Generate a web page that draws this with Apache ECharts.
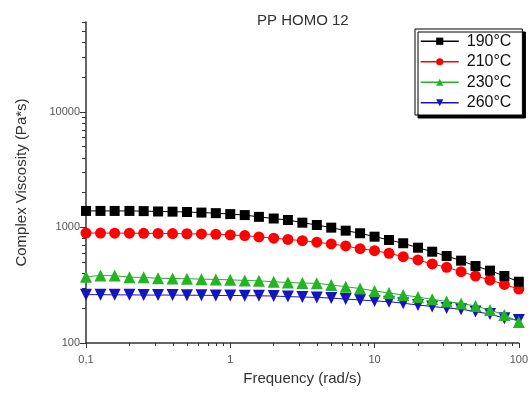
<!DOCTYPE html>
<html>
<head>
<meta charset="utf-8">
<script src="https://cdn.jsdelivr.net/npm/echarts@6/dist/echarts.min.js"></script>
<style>
html,body{margin:0;padding:0;background:#fff;}
#chart{width:531px;height:394px;}
</style>
</head>
<body>
<div id="chart"></div>
<script>
var frequency = [0.1,0.126,0.158,0.2,0.251,0.316,0.398,0.501,0.631,0.794,
  1,1.26,1.58,2,2.51,3.16,3.98,5.01,6.31,7.94,
  10,12.6,15.8,20,25.1,31.6,39.8,50.1,63.1,79.4,100];
var visc190 = [1390,1390,1390,1390,1385,1375,1370,1360,1345,1330,1305,1280,1235,1195,1160,1100,1050,996,938,891,832,779,730,668,617,566,516,464,423,380,339];
var visc210 = [895,895,893,893,890,888,885,882,878,872,862,850,828,808,787,769,745,720,692,655,630,598,559,523,483,452,414,380,351,321,293];
var visc230 = [375,383,383,371,370,363,362,360,357,355,352,348,345,339,334,330,329,318,307,296,282,271,260,250,239,229,220,209,193,175,152];
var visc260 = [262,262,261,261,260,260,260,259,259,258,258,257,256,255,252,250,248,245,240,236,231,228,221,213,207,201,196,187,178,164,158];
var seriesNames = ['190°C','210°C','230°C','260°C'];

var xMajorTicks = [0.1,1,10,100];
var xTickLabels = ['0,1','1','10','100'];
var xMinorTicks = [0.2,0.3,0.4,0.5,0.6,0.7,0.8,0.9,2,3,4,5,6,7,8,9,20,30,40,50,60,70,80,90];
var yMajorTicks = [100,1000,10000];
var yTickLabels = ['100','1000','10000'];
var yMinorTicks = [200,300,400,500,600,700,800,900,2000,3000,4000,5000,6000,7000,8000,9000,20000,30000,40000,50000,60000];

function pairs(ys){ return frequency.map(function(f,i){ return [f, ys[i]]; }); }

var colors = ['#000000','#ff0000','#22b422','#1414c0'];
var symbols = ['rect','circle','triangle','path://M0,0 L10,0 L5,9 Z'];
var values = [visc190, visc210, visc230, visc260];

var chart = echarts.init(document.getElementById('chart'));
var axisCol = '#333';
var xBase = {type:'log', logBase:10, min:0.1, max:100, gridIndex:0};
var yBase = {type:'log', logBase:10, min:100, max:60000, gridIndex:0};

chart.setOption({
  animation:false,
  backgroundColor:'#fff',
  title:{text:'PP HOMO 12', left:252, top:8, textStyle:{fontFamily:'Liberation Sans, Arial', fontSize:15, fontWeight:'normal', color:'#333'}},
  grid:{left:86, right:10, top:22, bottom:51},
  legend:{
    orient:'vertical', left:415, top:29, padding:[4,11,4,5],
    itemWidth:38, itemHeight:9, itemGap:4,
    backgroundColor:'#fff', borderColor:'#000', borderWidth:1, borderRadius:0,
    shadowColor:'#000', shadowBlur:0, shadowOffsetX:3, shadowOffsetY:3,
    textStyle:{fontFamily:'Liberation Sans, Arial', fontSize:16, lineHeight:16.5, color:'#111', padding:[0,0,0,3]},
    lineStyle:{width:1.5},
    data:seriesNames
  },
  xAxis:[
    Object.assign({}, xBase, {
      name:'Frequency (rad/s)', nameLocation:'middle', nameGap:28,
      nameTextStyle:{fontFamily:'Liberation Sans, Arial', fontSize:15, color:'#333'},
      axisLine:{show:true, lineStyle:{color:axisCol, width:1.5}},
      axisTick:{show:true, length:5, customValues:xMajorTicks, lineStyle:{color:axisCol}},
      axisLabel:{customValues:xMajorTicks, fontFamily:'Liberation Sans, Arial', fontSize:11, color:'#555', margin:11,
        formatter:function(v){ var i = xMajorTicks.indexOf(v); return i>=0 ? xTickLabels[i] : ''; }},
      splitLine:{show:false}
    }),
    Object.assign({}, xBase, {
      position:'bottom',
      axisLine:{show:false},
      axisTick:{show:true, length:3, customValues:xMinorTicks, lineStyle:{color:axisCol}},
      axisLabel:{show:false},
      splitLine:{show:false}
    })
  ],
  yAxis:[
    Object.assign({}, yBase, {
      name:'Complex Viscosity (Pa*s)', nameLocation:'middle', nameGap:57,
      nameTextStyle:{fontFamily:'Liberation Sans, Arial', fontSize:15, color:'#333'},
      axisLine:{show:true, lineStyle:{color:axisCol, width:1.5}},
      axisTick:{show:true, length:6, customValues:yMajorTicks, lineStyle:{color:axisCol}},
      axisLabel:{customValues:yMajorTicks, fontFamily:'Liberation Sans, Arial', fontSize:11, color:'#555', margin:6,
        formatter:function(v){ var i = yMajorTicks.indexOf(v); return i>=0 ? yTickLabels[i] : ''; }},
      splitLine:{show:false}
    }),
    Object.assign({}, yBase, {
      position:'left',
      axisLine:{show:false},
      axisTick:{show:true, length:4, customValues:yMinorTicks, lineStyle:{color:axisCol}},
      axisLabel:{show:false},
      splitLine:{show:false}
    })
  ],
  series: seriesNames.map(function(n,k){
    return {
      name:n, type:'line', xAxisIndex:0, yAxisIndex:0,
      data:pairs(values[k]),
      symbol:symbols[k], symbolSize: k===1 ? 11 : (k===0 ? 10 : 12),
      showAllSymbol:true,
      itemStyle:{color:colors[k]},
      lineStyle:{color:colors[k], width:1},
      z: 10-k
    };
  })
});
</script>
</body>
</html>
